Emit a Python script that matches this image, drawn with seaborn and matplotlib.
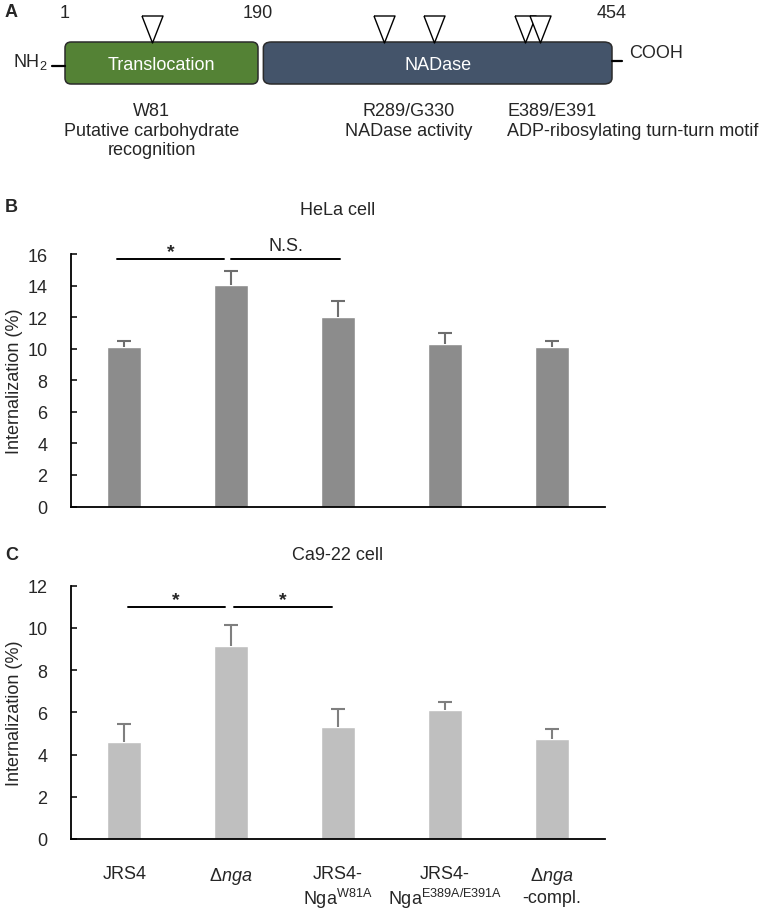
import numpy as np
import pandas as pd
import seaborn as sns
import matplotlib
matplotlib.use("Agg")
import matplotlib.pyplot as plt
from matplotlib.patches import FancyBboxPatch
from matplotlib.path import Path

# ---- data ----
strains = ["JRS4", "dnga", "JRS4-NgaW81A", "JRS4-NgaE389A/E391A", "dnga-compl."]
strain_labels = ["JRS4",
                 r"$\Delta\mathit{nga}$",
                 "JRS4-\nNga$^{\\mathrm{W81A}}$",
                 "JRS4-\nNga$^{\\mathrm{E389A/E391A}}$",
                 r"$\Delta\mathit{nga}$" + "\n-compl."]

hela_mean = [10.1, 14.05, 12.0, 10.3, 10.1]
hela_err = [0.4, 0.85, 1.05, 0.68, 0.38]
hela_sig = [(0, 1, "*"), (1, 2, "N.S.")]

ca922_mean = [4.58, 9.16, 5.32, 6.11, 4.74]
ca922_err = [0.85, 1.0, 0.83, 0.4, 0.48]
ca922_sig = [(0, 1, "*"), (1, 2, "*")]

# protein schematic (panel A)
domain_names = ["Translocation", "NADase"]
domain_bounds = [1, 190, 454]
domain_colors = ["#548235", "#44546a"]
site_marks = [86, 284, 321, 389, 400]   # where the triangles sit on the drawing
site_texts = ["W81\nPutative carbohydrate\nrecognition",
              "R289/G330\nNADase activity",
              "E389/E391\nADP-ribosylating turn-turn motif"]

sns.set_style("ticks")
plt.rcParams["font.family"] = ["Liberation Sans", "DejaVu Sans"]
plt.rcParams["mathtext.fontset"] = "custom"
plt.rcParams["mathtext.rm"] = "Liberation Sans"
plt.rcParams["mathtext.it"] = "Liberation Sans:italic"
plt.rcParams["mathtext.bf"] = "Liberation Sans:bold"
FS = 13

W, H = 765, 912
fig = plt.figure(figsize=(W / 100, H / 100), dpi=100)

# ---------------- panel A ----------------
ax_a = fig.add_axes([0, 1 - 170 / H, 1, 170 / H])
# schematic is not to scale: piecewise scale through the domain borders
anchor_res = [-300, 1, 190, 454, 900]
anchor_px = [65 - 301 * 1.021, 65, 258, 612, 612 + 446 * 1.341]


def fwd(x):
    return np.interp(x, anchor_res, anchor_px)


def inv(p):
    return np.interp(p, anchor_px, anchor_res)


ax_a.set_xscale("function", functions=(fwd, inv))
ax_a.set_xlim(inv(0), inv(W))
ax_a.set_ylim(170, 0)
ax_a.axis("off")

box_top, box_h = 43, 42
for i, name in enumerate(domain_names):
    x0 = domain_bounds[i] + (4 if i > 0 else 0)
    x1 = domain_bounds[i + 1]
    ax_a.add_patch(FancyBboxPatch((x0, box_top), x1 - x0, box_h,
                                  boxstyle="round,pad=0,rounding_size=6",
                                  mutation_aspect=1, fc=domain_colors[i],
                                  ec="#2b2b2b", lw=1.1))
    ax_a.text((x0 + x1) / 2, box_top + box_h / 2 + 1, name, color="white",
              fontsize=FS, ha="center", va="center")

for b in domain_bounds:
    ax_a.text(b, 18, str(b), fontsize=FS, ha="center", va="baseline")

ax_a.plot([-11.5, 1], [67, 67], color="black", lw=1.6)
ax_a.plot([454, 461.5], [62, 62], color="black", lw=1.6)
ax_a.text(-16.5, 62, "NH$_2$", fontsize=FS, ha="right", va="center")
ax_a.text(467, 53, "COOH", fontsize=FS, ha="left", va="center")

tri = Path([(-0.39, 0.5), (0.39, 0.5), (0, -0.5), (-0.39, 0.5)])
ax_a.scatter(site_marks, [29.5] * len(site_marks), marker=tri, s=378,
             facecolor="white", edgecolor="black", linewidths=1.0, zorder=3)

txt_top = 103
ax_a.text(site_marks[0], txt_top, site_texts[0], fontsize=FS, ha="center",
          va="top", linespacing=1.2)
ax_a.text(np.mean(site_marks[1:3]), txt_top, site_texts[1], fontsize=FS,
          ha="center", va="top", linespacing=1.2)
ax_a.text(site_marks[3] - 13, txt_top, site_texts[2], fontsize=FS, ha="left",
          va="top", linespacing=1.2)

fig.text(5 / W, 1 - 17 / H, "A", fontsize=FS, fontweight="bold")


# ---------------- panels B and C ----------------
def bar_panel(ax, mean, err, sig, color, ecolor, ymax, title, title_pad,
              sig_y, sig_span, show_labels):
    df = pd.DataFrame({"strain": strains, "value": mean})
    sns.barplot(data=df, x="strain", y="value", color=color, width=0.32,
                saturation=1, errorbar=None, ax=ax)
    _, caps, _ = ax.errorbar(range(len(mean)), mean,
                             yerr=[np.zeros(len(err)), err], fmt="none",
                             ecolor=ecolor, elinewidth=1.5, capsize=5,
                             capthick=1.5, zorder=3)
    caps[0].set_visible(False)   # upper error only
    ax.set_xlim(-0.5, len(strains) - 0.5)
    ax.set_ylim(0, ymax)
    ax.set_yticks(np.arange(0, ymax + 1, 2))
    ax.set_xlabel("")
    ax.set_ylabel("Internalization (%)", fontsize=FS)
    ax.yaxis.set_label_coords(-0.09, 0.5)
    ax.tick_params(axis="y", direction="in", length=4, width=1.3,
                   labelsize=FS, pad=17)
    ax.tick_params(axis="x", length=0, labelsize=FS, pad=19)
    if show_labels:
        ax.set_xticks(range(len(strains)))
        ax.set_xticklabels(strain_labels)
    else:
        ax.set_xticklabels([])
    sns.despine(ax=ax)
    for s in ["left", "bottom"]:
        ax.spines[s].set_linewidth(1.3)
        ax.spines[s].set_color("black")
    ax.set_title(title, fontsize=FS, pad=title_pad)

    for (i, j, lab), (a, b) in zip(sig, sig_span):
        ax.plot([i + a, j + b], [sig_y, sig_y], color="black", lw=1.4,
                clip_on=False)
        off = 2 if lab == "*" else 6
        ax.annotate(lab, xy=((i + a + j + b) / 2, sig_y), xytext=(0, off),
                    textcoords="offset points", ha="center", va="baseline",
                    fontsize=FS + (1 if lab == "*" else 0),
                    fontweight="bold" if lab == "*" else "normal",
                    annotation_clip=False)


ax_b = fig.add_axes([71 / W, 1 - 507.5 / H, 534 / W, 252.5 / H])
bar_panel(ax_b, hela_mean, hela_err, hela_sig, "#8c8c8c", "#6e6e6e", 16,
          "HeLa cell", 28.5, 15.7, [(-0.07, -0.07), (0.0, 0.02)], False)
fig.text(5 / W, 1 - 212 / H, "B", fontsize=FS, fontweight="bold")

ax_c = fig.add_axes([71 / W, 1 - 840 / H, 534 / W, 253.3 / H])
bar_panel(ax_c, ca922_mean, ca922_err, ca922_sig, "#bfbfbf", "#7f7f7f", 12,
          "Ca9-22 cell", 19, 11.0, [(0.03, -0.06), (0.03, -0.06)], True)
fig.text(5 / W, 1 - 560 / H, "C", fontsize=FS, fontweight="bold")

fig.savefig("out.png", dpi=100)
plt.close(fig)
